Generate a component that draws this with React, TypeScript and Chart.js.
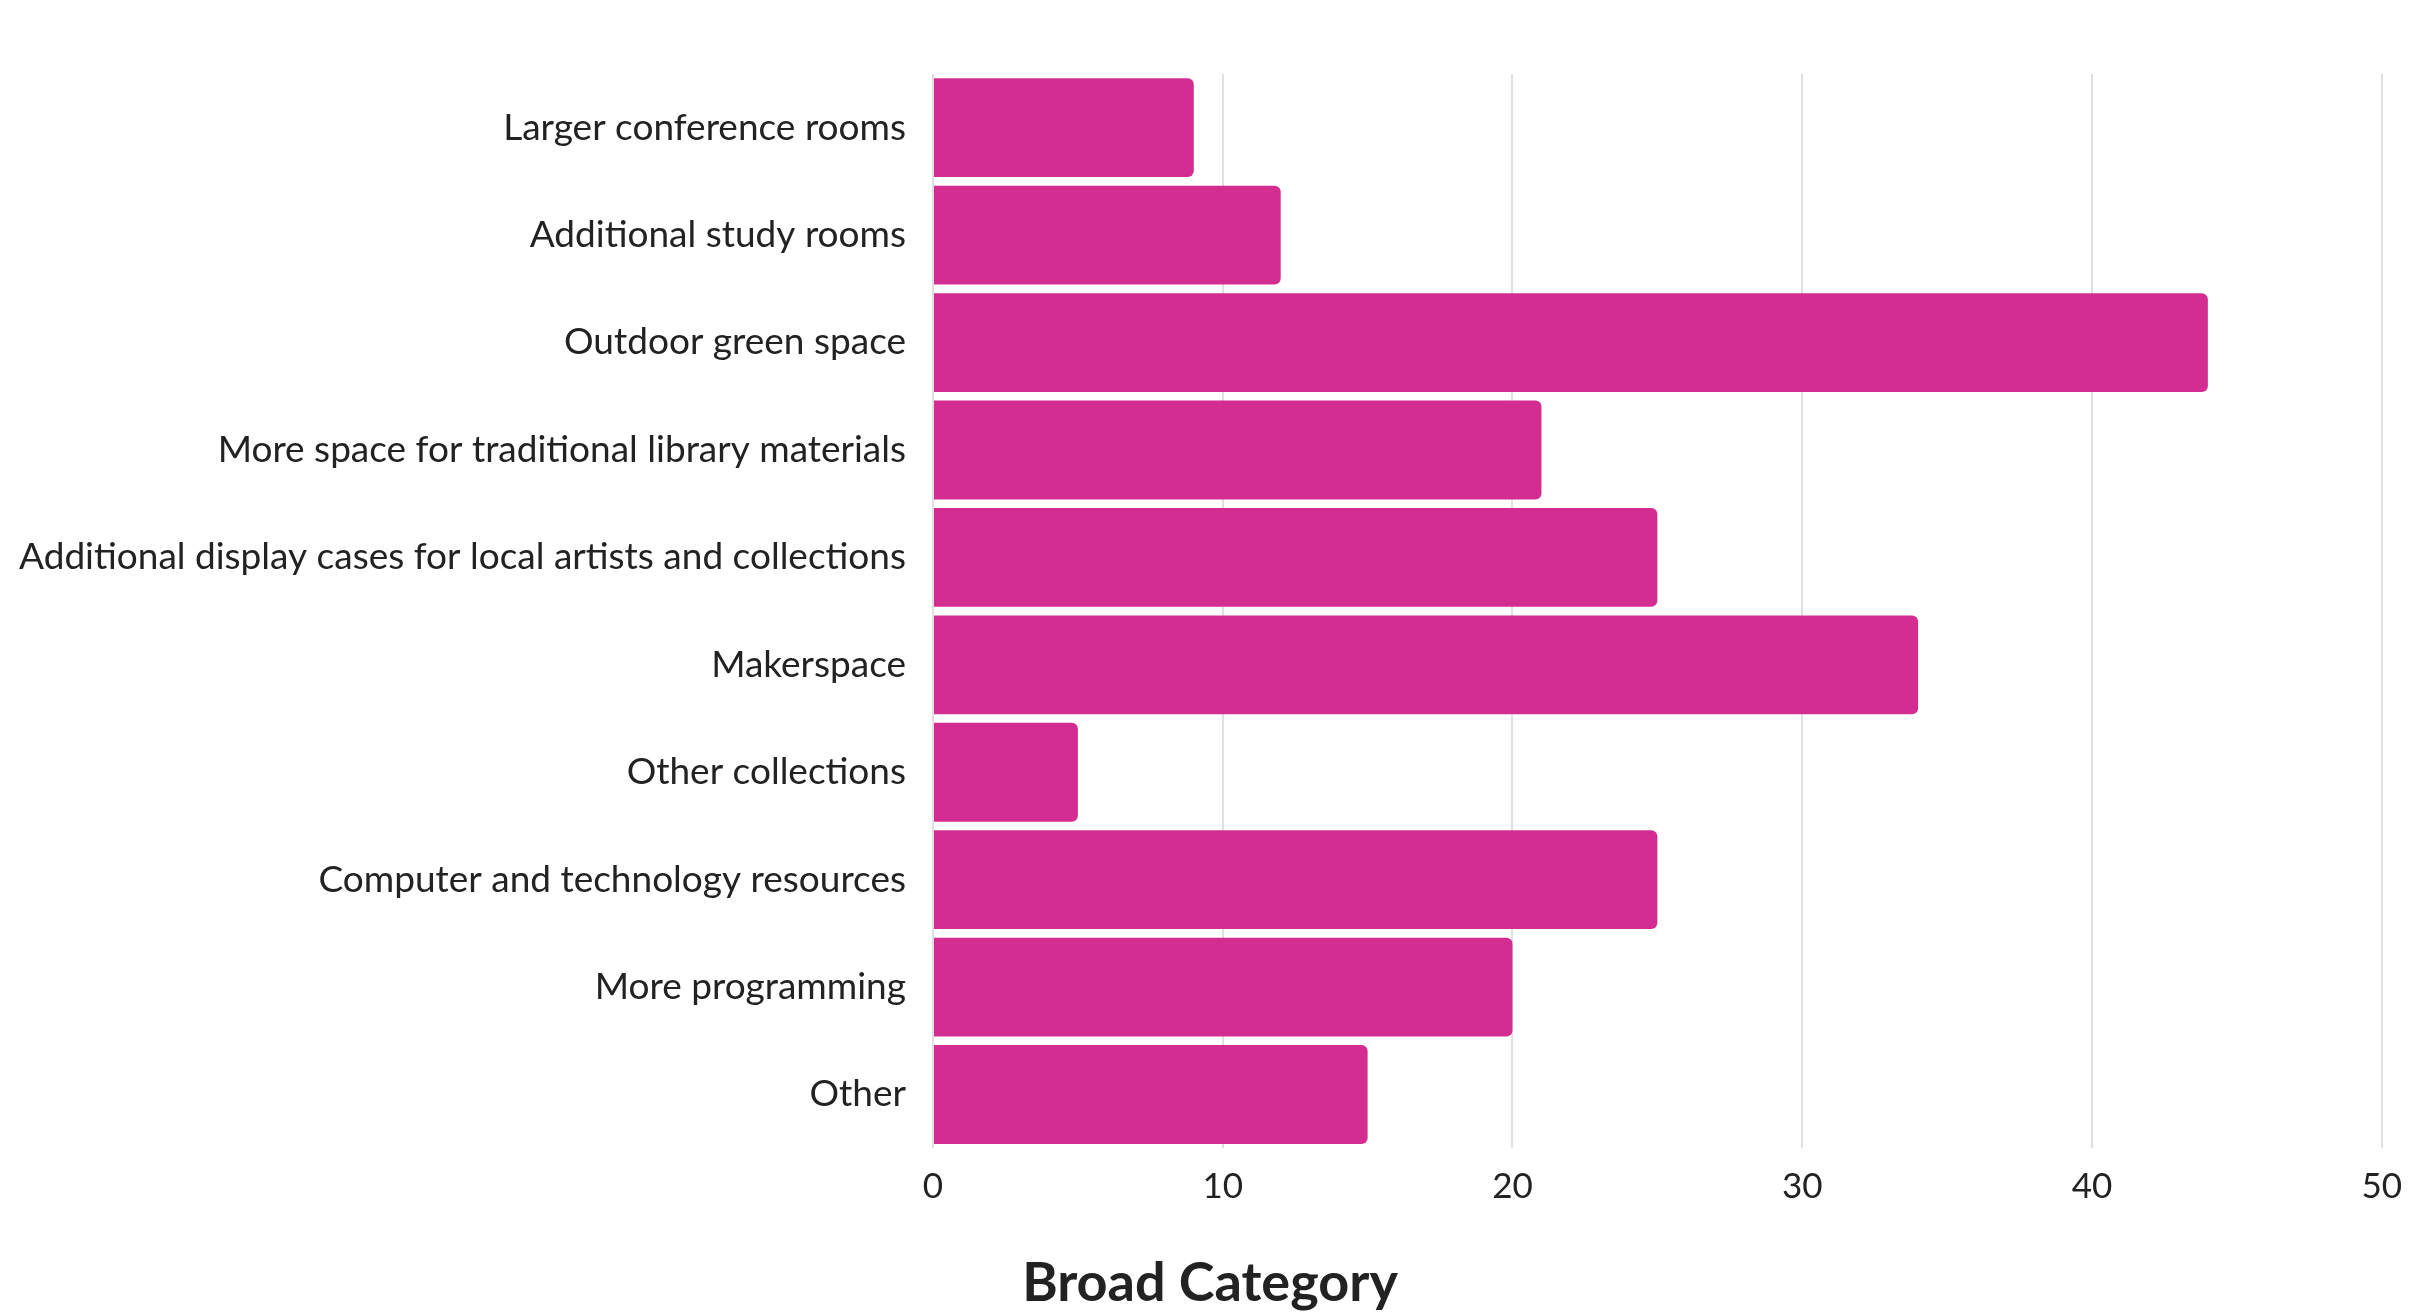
import { useEffect, useRef } from "react";
import { Chart, registerables } from "chart.js";

Chart.register(...registerables);

const categories = [
  "Larger conference rooms",
  "Additional study rooms",
  "Outdoor green space",
  "More space for traditional library materials",
  "Additional display cases for local artists and collections",
  "Makerspace",
  "Other collections",
  "Computer and technology resources",
  "More programming",
  "Other",
];

const counts = [9, 12, 44, 21, 25, 34, 5, 25, 20, 15];

const xTicks = [0, 10, 20, 30, 40, 50];

// the bottom title sits a little right of the canvas centre in the original
const titleNudge = {
  id: "titleNudge",
  afterLayout(chart: any) {
    const t = chart.titleBlock;
    if (t) {
      t.left += 4;
    }
  },
};

export default function App() {
  const canvasRef = useRef<HTMLCanvasElement>(null);

  useEffect(() => {
    if (!canvasRef.current) return;

    const chart = new Chart(canvasRef.current, {
      type: "bar",
      data: {
        labels: categories,
        datasets: [
          {
            label: "Count",
            data: counts,
            backgroundColor: "#D32D91",
            borderRadius: 6,
            barPercentage: 0.92,
            categoryPercentage: 1,
          },
        ],
      },
      options: {
        indexAxis: "y",
        animation: false,
        responsive: true,
        maintainAspectRatio: false,
        layout: {
          padding: { top: 66, left: 9, right: 21, bottom: 0 },
        },
        plugins: {
          legend: { display: false },
          tooltip: { enabled: false },
          title: {
            display: true,
            position: "bottom",
            text: "Broad Category",
            color: "#222",
            font: { family: "Lato", size: 54, weight: "bold" },
            padding: { top: 25, bottom: 0 },
          },
        },
        scales: {
          x: {
            min: xTicks[0],
            max: xTicks[xTicks.length - 1],
            ticks: {
              stepSize: 10,
              color: "#222",
              padding: 18,
              font: { family: "Lato", size: 35 },
            },
            grid: { color: "#e0e0e0", lineWidth: 2, drawTicks: false },
            border: { display: false },
          },
          y: {
            afterFit: (scale: any) => {
              // fixed room for the long category names
              scale.width = 916;
            },
            ticks: {
              color: "#222",
              padding: 27,
              font: { family: "Lato", size: 37 },
            },
            grid: { display: false, drawTicks: false },
            border: { display: false },
          },
        },
      },
      plugins: [titleNudge],
    });

    return () => {
      chart.destroy();
    };
  }, []);

  return (
    <div style={{ position: "relative", width: "2412px", height: "1308px" }}>
      <canvas ref={canvasRef} />
    </div>
  );
}
